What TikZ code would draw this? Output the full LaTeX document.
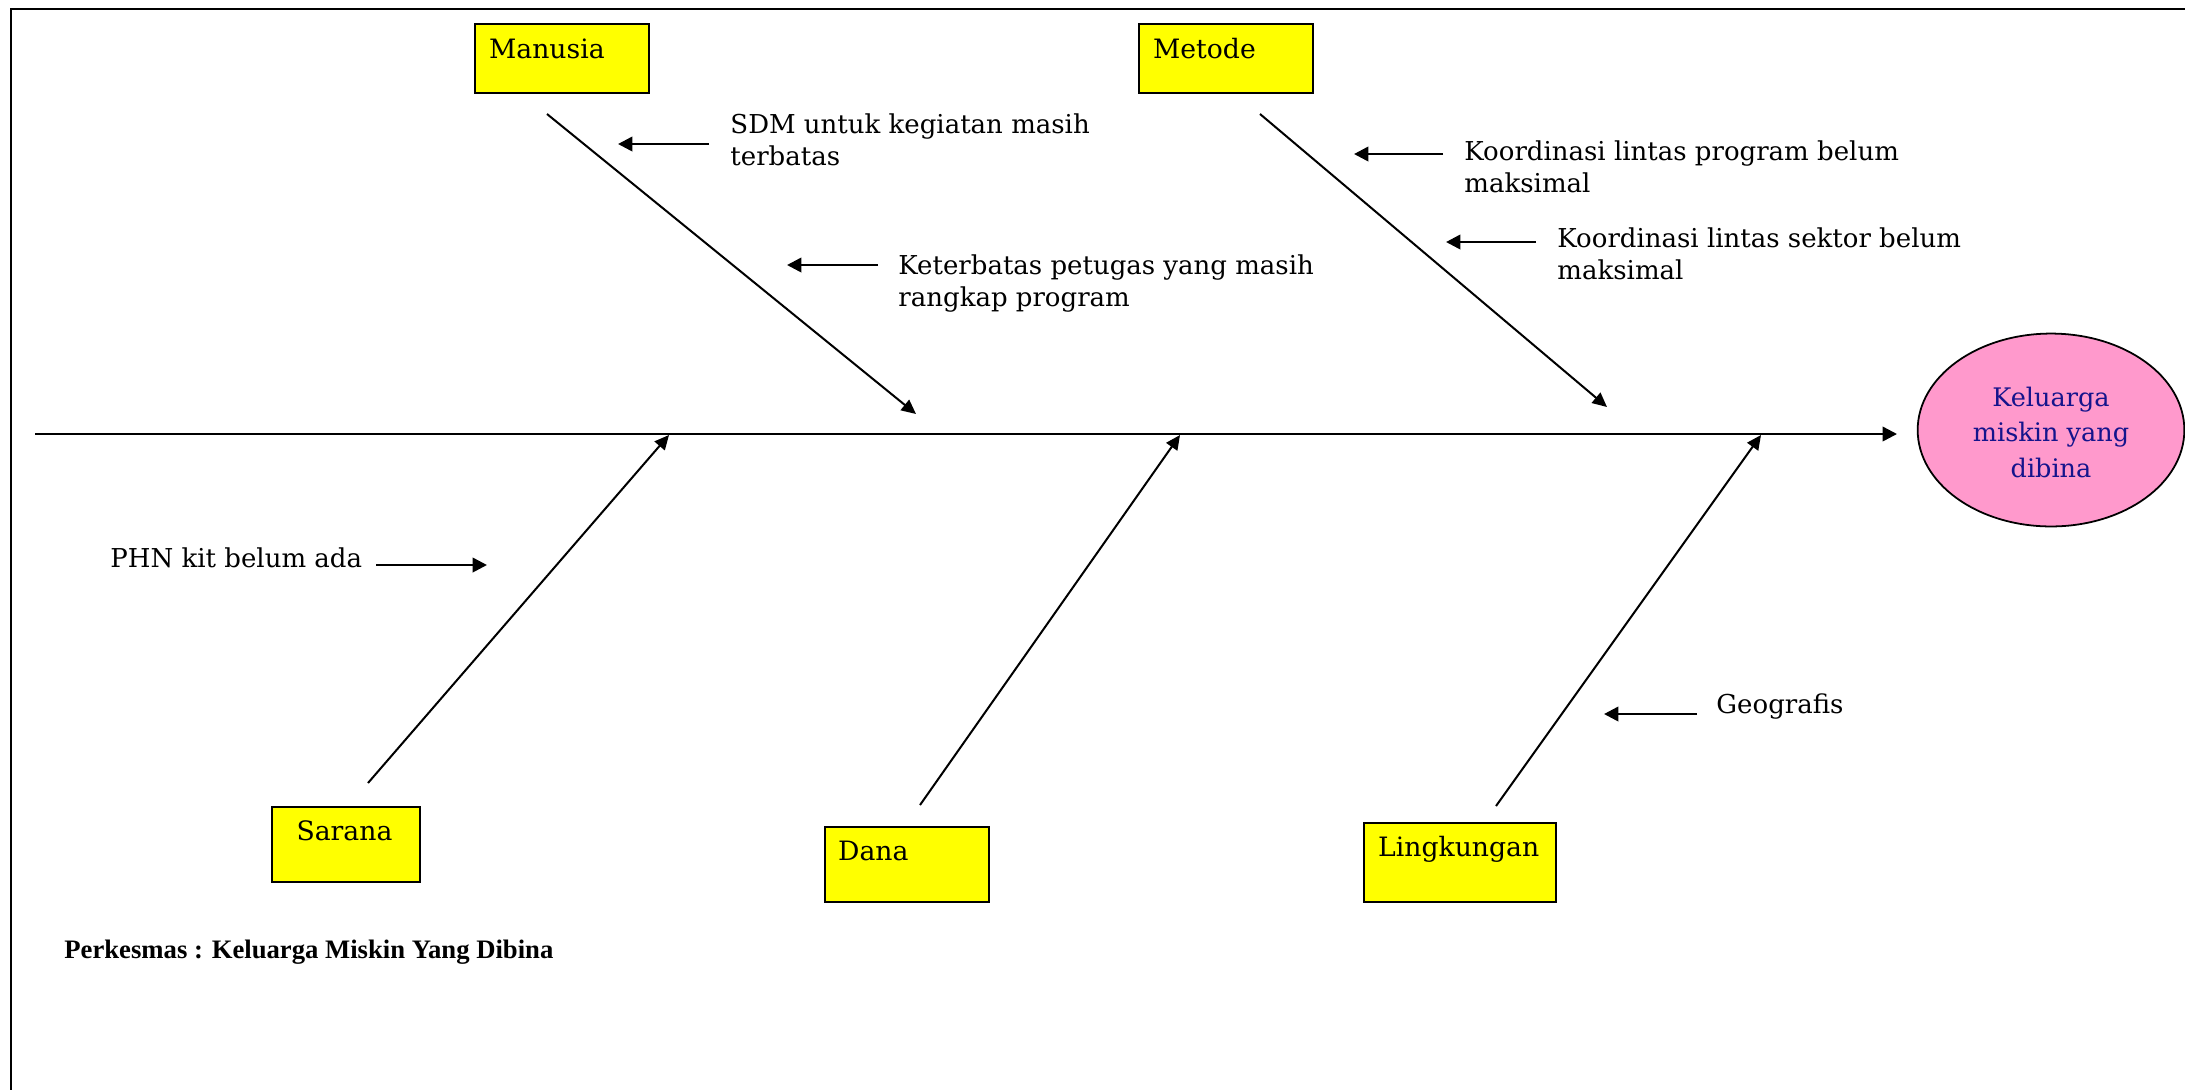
\documentclass[tikz,border=0pt]{standalone}
\usepackage{fontspec}
\setmainfont{DejaVu Serif}
\newfontfamily\capfont{Liberation Serif}
\usetikzlibrary{arrows.meta,shapes.geometric}
\definecolor{boxyellow}{RGB}{255,255,0}
\definecolor{effpink}{RGB}{255,153,204}
\definecolor{effblue}{RGB}{20,20,140}
\tikzset{
  catbox/.style={draw, fill=boxyellow, line width=1pt, inner xsep=0pt, inner ysep=0pt,
    anchor=north west, align=left, font=\fontsize{12}{14}\selectfont},
  cause/.style={anchor=base west, align=left, inner sep=0pt,
    font=\fontsize{11.7}{14.4}\selectfont},
  bone/.style={line width=0.9pt, -{Triangle[length=6.5pt,width=6pt]}},
  spinearrow/.style={line width=1.1pt, -{Triangle[length=6.5pt,width=6.5pt]}},
  small/.style={line width=1.2pt, -{Triangle[length=6.5pt,width=6.5pt]}},
}
\begin{document}
\begin{tikzpicture}[x=0.45pt,y=-0.45pt]
\useasboundingbox (0,0) rectangle (2185,1089);
% frame
\draw[line width=1.1pt] (11,1095) -- (11,9) -- (2195,9);

% category boxes
\node[catbox, text width=78.3pt, text height=15.3pt, text depth=15.75pt] (manusia) at (474,23) {\hspace*{6.3pt}Manusia};
\node[catbox, text width=78.3pt, text height=15.3pt, text depth=15.75pt] (metode) at (1138,23) {\hspace*{6.3pt}Metode};
\node[catbox, text width=66.6pt, text height=14.85pt, text depth=18.9pt] (sarana) at (271,806) {\hspace*{11pt}Sarana};
\node[catbox, text width=73.8pt, text height=14.85pt, text depth=18.9pt] (dana) at (824,826) {\hspace*{5.85pt}Dana};
\node[catbox, text width=86.4pt, text height=14.85pt, text depth=20.7pt] (lingkungan) at (1363,822) {\hspace*{6.3pt}Lingkungan};

% effect
\node[ellipse, draw, fill=effpink, line width=0.8pt, minimum width=120pt, minimum height=86.8pt,
      inner sep=0pt, text=effblue, font=\fontsize{11.5}{16}\selectfont]
      (effect) at (2051,430) {\raisebox{-2pt}[\height][\depth]{\begin{tabular}{@{}c@{}}Keluarga\\miskin yang\\dibina\end{tabular}}};

% bone end points
\coordinate (mA) at (547,114);
\coordinate (mB) at (916,414);
\coordinate (tA) at (1260,114);
\coordinate (tB) at (1607,407);
\coordinate (sA) at (368,783);
\coordinate (sB) at (669,435);
\coordinate (dA) at (920,805);
\coordinate (dB) at (1180,435);
\coordinate (lA) at (1496,806);
\coordinate (lB) at (1761,435);
\coordinate (spA) at (35,434);
\coordinate (spB) at (1897,434);

% spine and bones
\draw[spinearrow] (spA) -- (spB);
\draw[bone] (mA) -- (mB);
\draw[bone] (tA) -- (tB);
\draw[bone] (sA) -- (sB);
\draw[bone] (dA) -- (dB);
\draw[bone] (lA) -- (lB);

% cause texts (anchored at the baseline of their last line)
\node[cause] (c1) at (730,165) {SDM untuk kegiatan masih\\terbatas};
\node[cause] (c2) at (898,306) {Keterbatas petugas yang masih\\rangkap program};
\node[cause] (c3) at (1464,192) {Koordinasi lintas program belum\\maksimal};
\node[cause] (c4) at (1557,279) {Koordinasi lintas sektor belum\\maksimal};
\node[cause] (c5) at (110,567) {PHN kit belum ada};
\node[cause] (c6) at (1716,713) {Geografis};

% cause arrows
\coordinate (a1s) at (709,144);  \coordinate (a1e) at (618,144);
\coordinate (a2s) at (878,265);  \coordinate (a2e) at (787,265);
\coordinate (a3s) at (1443,154); \coordinate (a3e) at (1354,154);
\coordinate (a4s) at (1536,242); \coordinate (a4e) at (1446,242);
\coordinate (a5s) at (376,565);  \coordinate (a5e) at (487,565);
\coordinate (a6s) at (1697,714); \coordinate (a6e) at (1604,714);
\draw[small] (a1s) -- (a1e);
\draw[small] (a2s) -- (a2e);
\draw[small] (a3s) -- (a3e);
\draw[small] (a4s) -- (a4e);
\draw[small] (a5s) -- (a5e);
\draw[small] (a6s) -- (a6e);

% caption
\node[anchor=base west, inner sep=0pt, font=\capfont\bfseries\fontsize{12}{14}\selectfont]
  (caption) at (64,958) {Perkesmas : Keluarga Miskin Yang Dibina};
\end{tikzpicture}
\end{document}
